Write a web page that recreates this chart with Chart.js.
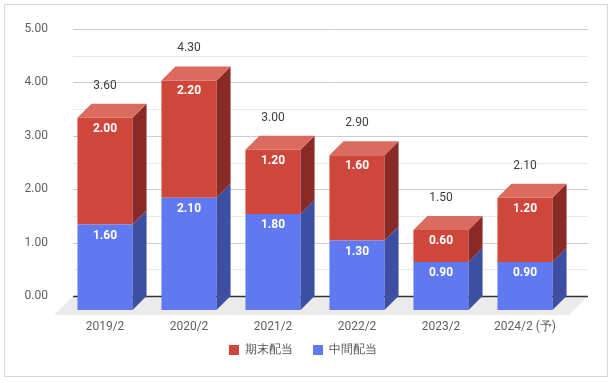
<!DOCTYPE html>
<html><head><meta charset="utf-8">
<script src="https://cdn.jsdelivr.net/npm/chart.js@4.4.1/dist/chart.umd.min.js"></script>
<style>html,body{margin:0;padding:0;background:#fff;}#wrap{width:612px;height:383px;}</style>
</head><body><div id="wrap"><canvas id="c" width="612" height="383"></canvas></div>
<script>
const categories = ['2019/2','2020/2','2021/2','2022/2','2023/2','2024/2 (予)'];
const interim = [1.60, 2.10, 1.80, 1.30, 0.90, 0.90];   // 中間配当
const yearEnd = [2.00, 2.20, 1.20, 1.60, 0.60, 1.20];   // 期末配当
const totals  = [3.60, 4.30, 3.00, 2.90, 1.50, 2.10];
const yTickLabels = ['0.00','1.00','2.00','3.00','4.00','5.00'];
const seriesNames = ['中間配当','期末配当'];

const frontColors = ['#6079f0', '#cf473b'];
const sideColors  = ['#3c4fa3', '#8a2a26'];
const topColors   = ['#7d93f3', '#db6a5f'];
const DEPTH = 14;

Chart.defaults.font.family = 'Roboto';

const threeD = {
  id: 'threeD',
  beforeDraw(chart) {
    const c = chart.ctx, a = chart.chartArea, y = chart.scales.y;
    c.save();
    c.fillStyle = '#fff';
    c.fillRect(0, 0, chart.width, chart.height);
    c.strokeStyle = '#d6d6d6';
    c.lineWidth = 1;
    c.strokeRect(4.5, 4.5, chart.width - 9, chart.height - 11);
    const L = a.left - 4, R = a.right + 7;
    for (let v = 0.5; v <= 5.0001; v += 0.5) {
      const py = Math.round(y.getPixelForValue(v)) + 0.5;
      const major = Math.abs(v - Math.round(v)) < 1e-6;
      c.strokeStyle = major ? '#cccccc' : '#e8e8e8';
      c.lineWidth = 1;
      c.beginPath(); c.moveTo(L, py); c.lineTo(R, py); c.stroke();
    }
    const y0 = y.getPixelForValue(0);
    const fd = 19;
    c.fillStyle = '#ebebeb';
    c.beginPath();
    c.moveTo(L, y0); c.lineTo(R, y0); c.lineTo(R - fd, y0 + fd); c.lineTo(L - fd, y0 + fd);
    c.closePath(); c.fill();
    c.strokeStyle = '#333333';
    c.lineWidth = 1.3;
    c.beginPath(); c.moveTo(L, Math.round(y0) + 0.5); c.lineTo(R, Math.round(y0) + 0.5); c.stroke();
    c.restore();
  },
  beforeDatasetsDraw(chart) {
    chart.ctx.save();
    chart.ctx.translate(-DEPTH, DEPTH);
  },
  afterDatasetsDraw(chart) {
    const c = chart.ctx;
    chart.data.datasets.forEach((ds, di) => {
      const meta = chart.getDatasetMeta(di);
      meta.data.forEach((el) => {
        const p = el.getProps(['x','y','base','width'], true);
        const l = p.x - p.width / 2, r = p.x + p.width / 2;
        const top = Math.min(p.y, p.base), bot = Math.max(p.y, p.base);
        c.fillStyle = sideColors[di];
        c.beginPath();
        c.moveTo(r, top); c.lineTo(r + DEPTH, top - DEPTH); c.lineTo(r + DEPTH, bot - DEPTH); c.lineTo(r, bot);
        c.closePath(); c.fill();
        if (di === chart.data.datasets.length - 1) {
          c.fillStyle = topColors[di];
          c.beginPath();
          c.moveTo(l, top); c.lineTo(l + DEPTH, top - DEPTH); c.lineTo(r + DEPTH, top - DEPTH); c.lineTo(r, top);
          c.closePath(); c.fill();
        }
      });
    });
    c.textAlign = 'center';
    c.textBaseline = 'middle';
    chart.data.datasets.forEach((ds, di) => {
      const meta = chart.getDatasetMeta(di);
      meta.data.forEach((el, i) => {
        const p = el.getProps(['x','y'], true);
        c.fillStyle = '#ffffff';
        c.font = 'bold 12px Roboto';
        c.fillText(ds.data[i].toFixed(2), p.x, p.y + 11);
        if (di === chart.data.datasets.length - 1) {
          c.fillStyle = '#3c3c3c';
          c.font = '12px Roboto';
          c.fillText(totals[i].toFixed(2), p.x, p.y - 32);
        }
      });
    });
    c.restore();
  }
};

new Chart(document.getElementById('c'), {
  type: 'bar',
  data: {
    labels: categories,
    datasets: [
      { label: seriesNames[0], data: interim, backgroundColor: frontColors[0], borderWidth: 0, clip: false },
      { label: seriesNames[1], data: yearEnd, backgroundColor: frontColors[1], borderWidth: 0, clip: false }
    ]
  },
  options: {
    responsive: false,
    animation: false,
    events: [],
    layout: { padding: { top: 29, right: 6, bottom: 17, left: 0 } },
    datasets: { bar: { categoryPercentage: 1, barPercentage: 0.656 } },
    scales: {
      x: {
        stacked: true,
        grid: { display: false, drawTicks: false },
        border: { display: false },
        ticks: { color: '#5f5f5f', font: { size: 12 }, padding: -38, mirror: true, labelOffset: -DEPTH, maxRotation: 0, autoSkip: false },
        afterFit: (s) => { s.height = 28; }
      },
      y: {
        stacked: true,
        min: 0, max: 5,
        grid: { display: false, drawTicks: false },
        border: { display: false },
        ticks: { stepSize: 1, color: '#5f5f5f', font: { size: 12 }, padding: 29,
                 callback: (v) => yTickLabels[Math.round(v)] },
        afterFit: (s) => { s.width = 77; s.paddingTop = 0; s.paddingBottom = 0; }
      },
      yPad: {
        type: 'linear',
        position: 'right',
        grid: { display: false, drawTicks: false },
        border: { display: false },
        ticks: { display: false },
        afterFit: (s) => { s.width = 25; s.paddingTop = 0; s.paddingBottom = 0; }
      }
    },
    plugins: {
      legend: {
        position: 'bottom',
        reverse: true,
        labels: { boxWidth: 10, boxHeight: 10, padding: 20, color: '#555555', font: { size: 12 } }
      },
      tooltip: { enabled: false }
    }
  },
  plugins: [threeD]
});
</script>
</body></html>
